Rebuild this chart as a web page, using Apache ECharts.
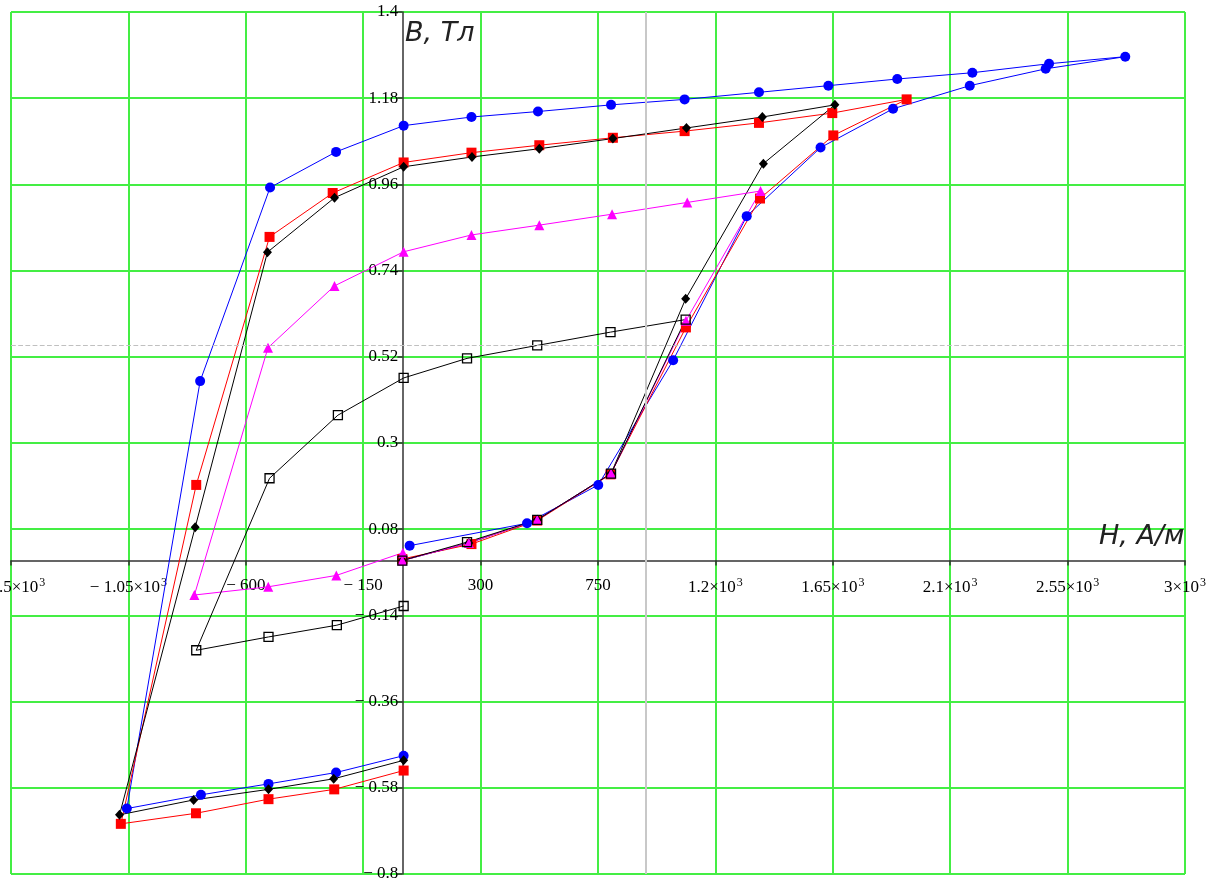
<!DOCTYPE html>
<html><head><meta charset="utf-8">
<script src="https://cdn.jsdelivr.net/npm/echarts@6/dist/echarts.min.js"></script>
<style>html,body{margin:0;padding:0;background:#fff}#c{width:1223px;height:885px}</style>
</head><body><div id="c"></div><script>
// H, A/m and B, T values
const blueH = [28, 478, 751, 1038, 1320, 1603, 1881, 2175, 2466, 2771, 2479, 2185, 1897, 1633, 1367, 1082, 800, 520, 265, 5, -254, -507, -775, -1056, -772, -513, -254, 5];
const blueB = [0.038, 0.095, 0.193, 0.511, 0.879, 1.054, 1.153, 1.212, 1.255, 1.286, 1.268, 1.245, 1.229, 1.212, 1.195, 1.177, 1.163, 1.146, 1.132, 1.11, 1.043, 0.952, 0.458, -0.633, -0.598, -0.570, -0.541, -0.498];

const redH = [0, 265, 517, 798, 1087, 1371, 1652, 1933, 1648, 1367, 1082, 807, 525, 265, 5, -267, -509, -790, -1079, -791, -513, -261, 5];
const redB = [0.004, 0.042, 0.102, 0.220, 0.595, 0.924, 1.085, 1.177, 1.142, 1.117, 1.096, 1.079, 1.060, 1.041, 1.016, 0.938, 0.826, 0.193, -0.672, -0.645, -0.609, -0.584, -0.536];

const blackH = [0, 255, 517, 800, 1086, 1384, 1658, 1380, 1089, 807, 525, 267, 5, -260, -517, -794, -1084, -800, -513, -263, 5];
const blackB = [0, 0.045, 0.104, 0.222, 0.668, 1.013, 1.163, 1.132, 1.104, 1.077, 1.051, 1.030, 1.005, 0.926, 0.787, 0.085, -0.649, -0.611, -0.584, -0.557, -0.510];

const magentaH = [0, 255, 517, 800, 1087, 1373, 1092, 804, 525, 265, 5, -260, -515, -797, -514, -253, 2];
const magentaB = [0, 0.045, 0.104, 0.222, 0.612, 0.943, 0.914, 0.884, 0.856, 0.831, 0.788, 0.701, 0.543, -0.088, -0.067, -0.038, 0.02];

const hollowH = [0, 248, 517, 800, 1086, 798, 517, 248, 5, -247, -509, -790, -513, -251, 5];
const hollowB = [0, 0.047, 0.104, 0.222, 0.615, 0.583, 0.549, 0.516, 0.466, 0.371, 0.210, -0.229, -0.195, -0.165, -0.116];

// axis settings
const xMin = -1500, xMax = 3000, xStep = 450;
const yMin = -0.8, yMax = 1.4, yStep = 0.22;
const cursorH = 932, cursorB = 0.549;
const xName = 'H, А/м', yName = 'B, Тл';

const pairs = (h, b) => h.map((v, i) => [v, b[i]]);

function xFmt(v) {
  const neg = v < 0;
  const a = Math.abs(Math.round(v));
  let s;
  if (a >= 1000) {
    const m = Math.round(a / 10) / 100;
    s = m + '×10{sup|3}';
  } else s = String(a);
  return (neg ? '− ' : '') + s;
}
function yFmt(v) {
  const r = Math.round(v * 100) / 100;
  if (r < 0) return '− ' + Math.abs(r);
  return String(r);
}

const W = 1223, H = 885;
const G = {left: 11, right: 38, top: 12, bottom: 11};
const gridW = W - G.left - G.right, gridH = H - G.top - G.bottom;
// move axes so they cross at the origin (labels follow)
const yAxisOffset = -((0 - xMin) / (xMax - xMin)) * gridW;
const xAxisOffset = -((0 - yMin) / (yMax - yMin)) * gridH;

const chart = echarts.init(document.getElementById('c'));
const lbl = {fontFamily: 'Liberation Serif', fontSize: 17, color: '#000'};
function mk(name, h, b, color, symbol, size, extra) {
  return Object.assign({
    type: 'line', name, data: pairs(h, b), symbol, symbolSize: size,
    lineStyle: {color, width: 1}, itemStyle: {color},
    showAllSymbol: true, clip: false, emphasis: {disabled: true}
  }, extra || {});
}
chart.setOption({
  animation: false,
  backgroundColor: '#fff',
  grid: Object.assign({containLabel: false, outerBoundsMode: 'none'}, G),
  xAxis: {
    type: 'value', min: xMin, max: xMax, interval: xStep, position: 'bottom', offset: xAxisOffset,
    axisLine: {onZero: false, lineStyle: {color: '#333', width: 1.5}},
    axisTick: {show: true, length: 5, lineStyle: {color: '#333', width: 1.5}},
    splitLine: {show: true, lineStyle: {color: '#44ee44', width: 2}},
    axisLabel: Object.assign({margin: 16, formatter: xFmt, hideOverlap: false,
      rich: {sup: {fontFamily: 'Liberation Serif', fontSize: 12, color: '#000', verticalAlign: 'top', padding: [0, 0, 9, 1]}}}, lbl)
  },
  yAxis: {
    type: 'value', min: yMin, max: yMax, interval: yStep, position: 'left', offset: yAxisOffset,
    axisLine: {onZero: false, lineStyle: {color: '#333', width: 1.5}},
    axisTick: {show: true, length: 5, lineStyle: {color: '#333', width: 1.5}},
    splitLine: {show: true, lineStyle: {color: '#44ee44', width: 2}},
    axisLabel: Object.assign({margin: 4, formatter: yFmt, padding: [5, 0, 0, 0]}, lbl)
  },
  graphic: [
    {type: 'text', left: 405, top: 20, z: 100, style: {text: yName, font: 'oblique 27px "DejaVu Sans"', fill: '#222'}},
    {type: 'text', left: 1099, top: 523, z: 100, style: {text: xName, font: 'oblique 27px "DejaVu Sans"', fill: '#222'}}
  ],
  series: [
    {type: 'line', data: [], z: 1, silent: true,
      markLine: {silent: true, symbol: ['none', 'none'], label: {show: false},
        lineStyle: {color: '#c8c8c8', width: 2, type: 'solid'},
        data: [{xAxis: cursorH}, {yAxis: cursorB, lineStyle: {type: 'dashed', width: 1.2, color: '#c0c0c0'}}]}},
    mk('blue', blueH, blueB, '#0000ff', 'circle', 10),
    mk('red', redH, redB, '#ff0000', 'rect', 10),
    mk('black', blackH, blackB, '#000000', 'diamond', [9, 10]),
    mk('magenta', magentaH, magentaB, '#ff00ff', 'triangle', 10),
    mk('hollow', hollowH, hollowB, '#000000', 'rect', 9,
      {itemStyle: {color: 'rgba(0,0,0,0)', borderColor: '#000', borderWidth: 1.3}})
  ]
});
</script></body></html>
